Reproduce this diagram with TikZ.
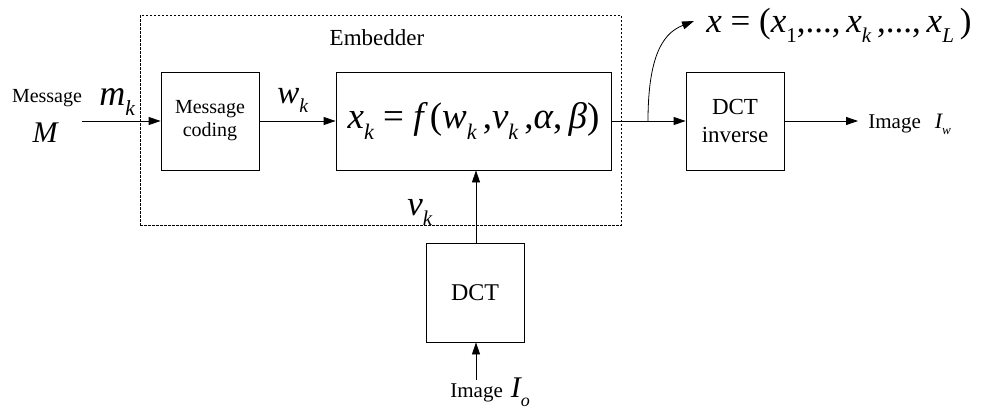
\documentclass[tikz,border=0pt]{standalone}
\usepackage{fontspec}
\setmainfont{Liberation Serif}
\usepackage{graphicx}
\usetikzlibrary{arrows.meta}
\newcommand\sbs[1]{\raisebox{-0.3em}{\scalebox{0.6}{#1}}}
\newcommand\fs[1]{\fontsize{#1}{#1}\selectfont}
\begin{document}
\begin{tikzpicture}[x=1pt,y=-1pt, line width=0.8pt,
  box/.style={draw, line width=0.8pt, minimum width=98pt, minimum height=98pt, align=center, inner sep=0pt},
  lbl/.style={inner sep=0pt, anchor=base},
  arr/.style={-{Triangle[length=12pt,width=8pt]}},
  dashbox/.style={draw, dash pattern=on 2.5pt off 1.5pt, line width=0.6pt, minimum width=481pt, minimum height=210pt, inner sep=0pt}]
\useasboundingbox (0,0) rectangle (981,410);
\node[dashbox] (emb) at (380.5,120) {};
\node[lbl, font=\fs{23}] (embl) at (377,45) {Embedder};
\node[box, font=\fontsize{20}{23}\selectfont] (mc) at (210,121) {Message\\coding};
\node[box, minimum width=275pt, font=\fs{37}] (fx) at (473.5,121)
  {\itshape x\sbs{k}\upshape\ =\ \itshape f\,\upshape(\itshape w\sbs{k}\,\upshape,\itshape v\sbs{k}\,\upshape,\itshape α\upshape,\,\itshape β\upshape)};
\node[box, font=\fontsize{23}{28}\selectfont] (dinv) at (735,121) {DCT\\inverse};
\node[box, minimum height=99pt, font=\fs{24}] (dct) at (475,292.5) {DCT};
\node[lbl, font=\fs{20}] (msg) at (47,102) {Message};
\node[lbl, font=\fs{30}\itshape] (M) at (45,142) {M};
\node[lbl, anchor=base west, font=\fs{36}\itshape] (mk) at (99,105) {m\sbs{k}};
\node[lbl, anchor=base west, font=\fs{33}\itshape] (wk) at (277,103) {w\sbs{k}};
\node[lbl, anchor=base west, font=\fs{35}\itshape] (vk) at (407,215) {v\sbs{k}};
\node[lbl, anchor=base west, font=\fs{35}] (xvec) at (706,32)
  {\itshape x\upshape\ =\ (\itshape x\sbs{\upshape 1}\upshape,...,\,\itshape x\sbs{k}\upshape\,,...,\,\itshape x\sbs{L}\upshape\,)};
\node[lbl, anchor=base west, font=\fs{21}] (iw) at (868,128) {Image\hspace{14pt}{\fs{22}\itshape I\sbs{w}}};
\node[lbl, anchor=base west, font=\fs{21}] (io) at (450,397) {Image\hspace{8pt}{\fs{30}\itshape I\sbs{o}}};
\coordinate (mstart) at (82,121);
\coordinate (br) at (648,121);
\coordinate (xtip) at (694,21);
\coordinate (iwtip) at (858,121);
\coordinate (iostart) at (476,380);
\draw[arr] (mstart) -- (mc.west);
\draw[arr] (mc.east) -- (fx.west);
\draw (fx.east) -- (br);
\draw[arr] (br) -- (dinv.west);
\draw[arr] (br) .. controls (648,50) and (666,32) .. (xtip);
\draw[arr] (dinv.east) -- (iwtip);
\draw[arr] (dct.north -| iostart) -- (fx.south -| iostart);
\draw[arr] (iostart) -- (dct.south -| iostart);
\end{tikzpicture}
\end{document}
